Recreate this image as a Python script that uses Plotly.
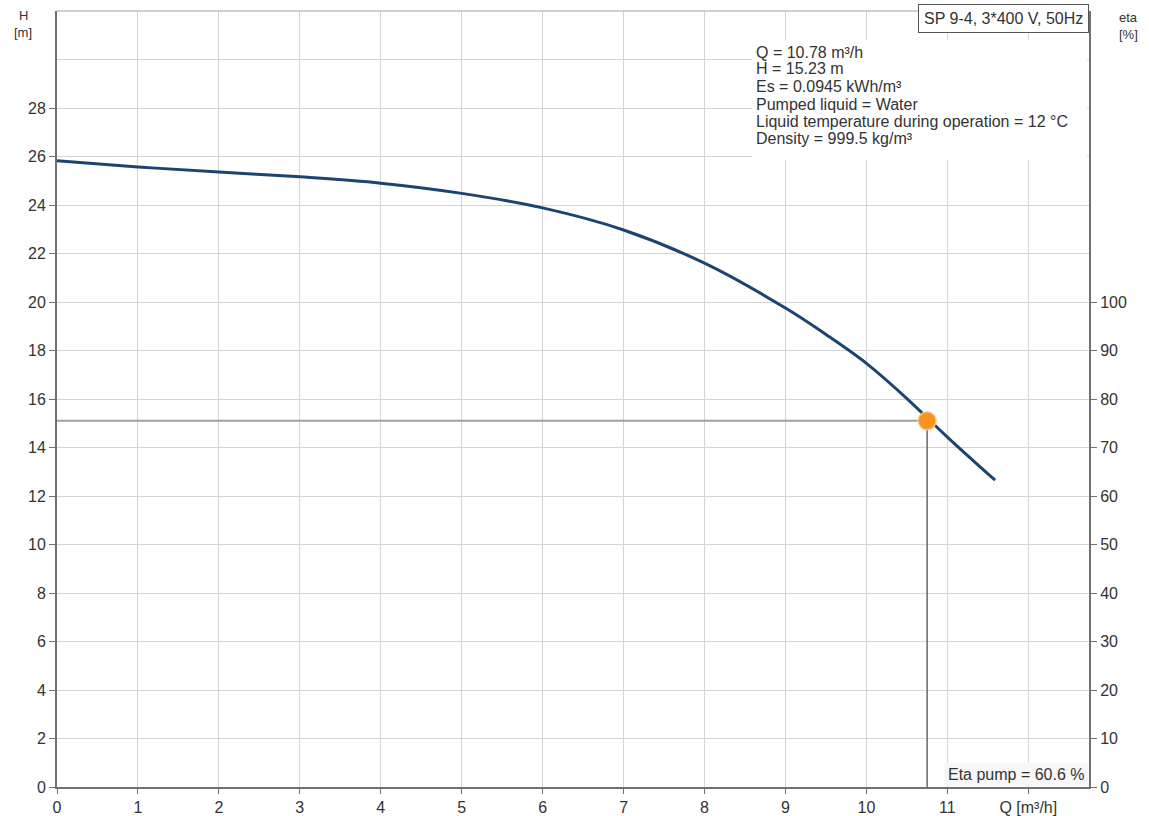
import plotly.graph_objects as go

# Pump curve data
q_curve = [0, 1, 2, 3, 4, 5, 6, 7, 8, 9, 9.5, 10, 10.5, 11, 11.59]
h_curve = [25.82, 25.57, 25.36, 25.16, 24.9, 24.48, 23.88, 22.97, 21.6, 19.75, 18.66, 17.47, 16.02, 14.43, 12.65]

# Operating point (as drawn)
q_op = 10.75
h_op = 15.1

x_ticks = list(range(0, 13))
x_ticktext = [str(v) for v in range(0, 12)] + ["Q [m³/h]"]
y_ticks = list(range(0, 30, 2))
y2_ticks = list(range(0, 101, 10))

info_lines = [
    "Q = 10.78 m³/h",
    "H = 15.23 m",
    "Es = 0.0945 kWh/m³",
    "Pumped liquid = Water",
    "Liquid temperature during operation = 12 °C",
    "Density = 999.5 kg/m³",
]
title_text = "SP 9-4, 3*400 V, 50Hz"
eta_text = "Eta pump = 60.6 %"

FONT = "Liberation Sans, Arial, sans-serif"
FS = 16
TXT = "#333333"
GRID = "#d4d4d4"
AXC = "#707070"

# plot area in pixels
L, R, T, B = 57, 1089, 11, 787
W, H = 1149, 816


def px_x(p):
    return (p - L) / (R - L)


def px_y(p):
    return (B - p) / (B - T)


fig = go.Figure()

# operating lines
fig.add_trace(go.Scatter(x=[0, q_op], y=[h_op, h_op], mode="lines",
                         line=dict(color="#a0a0a0", width=2), hoverinfo="skip", showlegend=False))
fig.add_trace(go.Scatter(x=[q_op, q_op], y=[h_op, 0], mode="lines",
                         line=dict(color="#505050", width=1.3), hoverinfo="skip", showlegend=False))

# pump curve
fig.add_trace(go.Scatter(x=q_curve, y=h_curve, mode="lines",
                         line=dict(color="#1b4570", width=3, shape="spline", smoothing=1.0),
                         showlegend=False))

# operating point marker
fig.add_trace(go.Scatter(x=[q_op], y=[h_op], mode="markers",
                         marker=dict(size=18, color="#f7941d", line=dict(color="#fbc98a", width=1.5)),
                         showlegend=False))

# dummy trace for right axis
fig.add_trace(go.Scatter(x=[None], y=[None], yaxis="y2", showlegend=False))

fig.update_layout(
    width=W, height=H,
    margin=dict(l=L, r=W - R, t=T, b=H - B, autoexpand=False),
    paper_bgcolor="white", plot_bgcolor="white",
    font=dict(family=FONT, size=FS, color=TXT),
    xaxis=dict(range=[0, 12.75], tickvals=x_ticks, ticktext=x_ticktext, automargin=False,
               showgrid=True, gridcolor=GRID, gridwidth=1,
               showline=True, linecolor=AXC, linewidth=2,
               ticks="outside", ticklen=5, tickcolor=AXC, zeroline=False,
               tickfont=dict(size=FS, color=TXT)),
    yaxis=dict(range=[0, 32], tickvals=y_ticks, automargin=False,
               showgrid=True, gridcolor=GRID, gridwidth=1,
               showline=True, linecolor=AXC, linewidth=2,
               ticks="outside", ticklen=6, tickcolor=AXC, zeroline=False,
               tickfont=dict(size=FS, color=TXT)),
    yaxis2=dict(range=[0, 160], tickvals=y2_ticks, overlaying="y", side="right", automargin=False,
                showgrid=False, showline=True, linecolor=AXC, linewidth=2,
                ticks="outside", ticklen=6, tickcolor=AXC, zeroline=False,
                tickfont=dict(size=FS, color=TXT)),
)

# extra gridline at 30 and top border
fig.add_shape(type="line", xref="paper", yref="y", x0=0, x1=1, y0=30, y1=30,
              line=dict(color=GRID, width=1), layer="below")
fig.add_shape(type="line", xref="paper", yref="paper", x0=0, x1=1, y0=1, y1=1,
              line=dict(color="#c0c0c0", width=1.5))

# white background behind info text
fig.add_shape(type="rect", xref="paper", yref="paper",
              x0=px_x(752), x1=px_x(1087), y0=px_y(160), y1=px_y(40),
              fillcolor="white", line=dict(width=0), layer="above")

# axis titles
for txt, xp, yp in [("H", 23, 16), ("[m]", 23, 32), ("eta", 1128, 18), ("[%]", 1128, 34)]:
    fig.add_annotation(xref="paper", yref="paper", x=px_x(xp), y=px_y(yp),
                       xanchor="center", yanchor="middle", text=txt, showarrow=False,
                       font=dict(size=13, color=TXT))

# title box
fig.add_annotation(xref="paper", yref="paper", x=1.0, y=px_y(19), xanchor="right", yanchor="middle",
                   text=title_text, showarrow=False, font=dict(size=FS, color=TXT),
                   bgcolor="white", bordercolor="#555555", borderwidth=1, borderpad=5)

# info text lines
line_y = [52, 69, 87, 104, 121, 139]
for txt, yp in zip(info_lines, line_y):
    fig.add_annotation(xref="paper", yref="paper", x=px_x(754), y=px_y(yp),
                       xanchor="left", yanchor="middle", text=txt, align="left",
                       showarrow=False, font=dict(size=FS, color=TXT))

# eta box
fig.add_annotation(xref="paper", yref="paper", x=1.0, y=0.0, xanchor="right", yanchor="bottom",
                   text=eta_text, showarrow=False, font=dict(size=FS, color=TXT),
                   bgcolor="#f7f7f7", borderpad=3)

fig.write_html("out.html", config={"displayModeBar": False},
               post_script="document.body.style.margin='0';document.body.style.overflow='hidden';")
